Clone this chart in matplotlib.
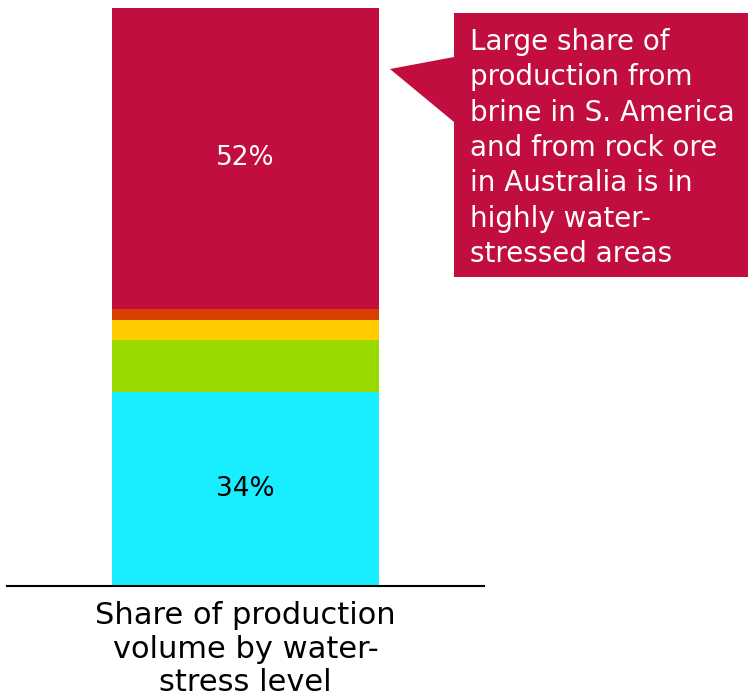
import matplotlib.pyplot as plt
from matplotlib.patches import Polygon

# share of production volume by water-stress level (bottom to top)
niveles = ['Low', 'Low-medium', 'Medium-high', 'High', 'Extremely high']
valores = [33.5, 9, 3.5, 2, 52]
colores = ['#18EEFF', '#99DB00', '#FFCC00', '#D84000', '#C20E3E']
etiquetas = ['34%', '', '', '', '52%']
color_texto = ['black', 'white', 'white', 'white', 'white']

categoria = 'Share of production\nvolume by water-\nstress level'
nota = ('Large share of\nproduction from\nbrine in S. America\nand from rock ore\n'
        'in Australia is in\nhighly water-\nstressed areas')

W, H = 748, 696
fig = plt.figure(figsize=(W / 100, H / 100), dpi=100)
ax = fig.add_axes([7 / W, 1 - 586 / H, 477 / W, 578 / H])

base = 0
for v, c, et, ct in zip(valores, colores, etiquetas, color_texto):
    ax.bar(0, v, bottom=base, width=0.558, color=c, linewidth=0)
    if et:
        ax.text(0, base + v / 2, et, ha='center', va='center',
                fontsize=19, color=ct)
    base += v

ax.set_xlim(-0.5, 0.5)
ax.set_ylim(0, 100)
for s in ['top', 'right', 'left']:
    ax.spines[s].set_visible(False)
ax.spines['bottom'].set_linewidth(1.5)
ax.set_yticks([])
ax.set_xticks([0], [categoria], fontsize=22, linespacing=1.2)
ax.tick_params(axis='x', length=0, pad=11)

# callout drawn in pixel coordinates over the whole figure
ov = fig.add_axes([0, 0, 1, 1])
ov.set_xlim(0, W)
ov.set_ylim(H, 0)
ov.axis('off')
ov.add_patch(Polygon([(454, 13), (748, 13), (748, 277), (454, 277),
                      (454, 122), (390, 69), (454, 57)],
                     closed=True, facecolor='#C20E3E', edgecolor='none'))
ov.text(470, 148, nota, ha='left', va='center', color='white',
        fontsize=20, linespacing=1.33)

fig.savefig('out.png', dpi=100)
